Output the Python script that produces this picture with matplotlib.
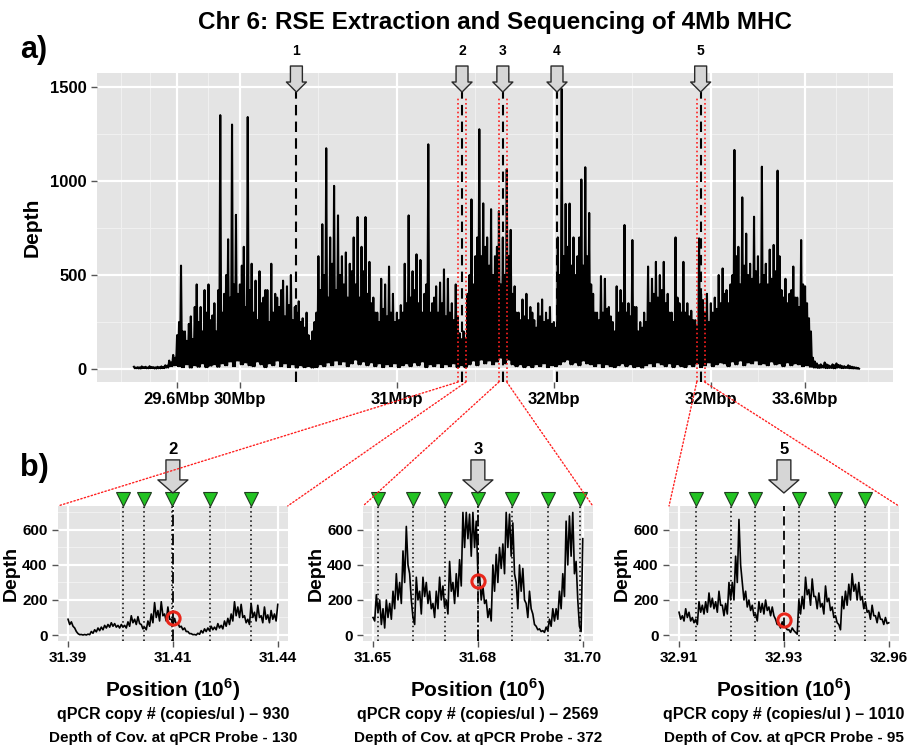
import numpy as np
import matplotlib
matplotlib.use('Agg')
import matplotlib.pyplot as plt
from matplotlib.patches import ConnectionPatch

plt.rcParams['font.family'] = ['Liberation Sans', 'DejaVu Sans']
plt.rcParams['font.weight'] = 'bold'
plt.rcParams['mathtext.fontset'] = 'custom'
plt.rcParams['mathtext.rm'] = 'Liberation Sans:bold'
plt.rcParams['mathtext.bf'] = 'Liberation Sans:bold'

# ---- a) whole MHC coverage: per 25 kb bin a main peak, a second peak and the trough ----
track_start = 29.325   # Mb
track_step = 0.025
peak_depth = [
    12, 10, 14, 12, 15, 10, 12, 14, 20, 45,
    75, 180, 550, 200, 240, 160, 450, 330, 420, 450,
    285, 200, 1350, 400, 690, 1300, 820, 450, 650, 1340,
    560, 470, 520, 380, 420, 560, 400, 330, 470, 440,
    500, 330, 360, 270, 300, 150, 250, 600, 770, 1174,
    700, 974, 817, 600, 620, 560, 700, 808, 650, 808,
    570, 380, 300, 480, 450, 545, 400, 300, 340, 560,
    817, 520, 610, 580, 400, 1195, 350, 440, 460, 530,
    480, 350, 450, 190, 200, 400, 902, 600, 1275, 881,
    700, 850, 600, 840, 700, 1063, 740, 440, 300, 370,
    400, 330, 260, 350, 370, 300, 330, 250, 700, 1489,
    878, 880, 700, 600, 1008, 1073, 830, 400, 300, 494,
    480, 330, 250, 440, 420, 766, 350, 686, 330, 250,
    300, 545, 480, 570, 500, 570, 400, 300, 700, 350,
    570, 350, 310, 260, 695, 367, 400, 350, 380, 500,
    535, 420, 450, 1165, 650, 913, 720, 560, 810, 600,
    1076, 560, 635, 660, 1055, 420, 480, 400, 545, 380,
    686, 440, 270, 60, 30, 25, 35, 20, 25, 30,
    20, 15, 20, 12, 8,
]
second_peak_depth = [
    8, 9, 10, 8, 11, 9, 10, 12, 18, 35,
    60, 250, 200, 150, 280, 330, 250, 200, 300, 260,
    350, 420, 300, 500, 380, 450, 400, 550, 330, 420,
    300, 260, 350, 420, 250, 300, 380, 420, 280, 340,
    260, 300, 250, 220, 180, 200, 300, 420, 500, 380,
    560, 420, 500, 450, 380, 520, 450, 380, 520, 400,
    350, 300, 250, 320, 280, 300, 250, 260, 300, 350,
    380, 420, 350, 300, 450, 300, 380, 300, 350, 280,
    300, 260, 280, 150, 160, 500, 450, 700, 600, 650,
    550, 500, 650, 450, 500, 600, 400, 300, 260, 280,
    260, 300, 220, 280, 250, 260, 240, 220, 500, 600,
    650, 550, 500, 700, 550, 600, 450, 300, 260, 300,
    320, 280, 200, 300, 350, 300, 280, 330, 200, 220,
    250, 350, 400, 380, 420, 350, 300, 250, 380, 300,
    300, 280, 260, 230, 400, 300, 250, 300, 320, 350,
    400, 350, 500, 600, 450, 550, 500, 480, 520, 450,
    500, 450, 480, 520, 600, 380, 350, 420, 380, 330,
    450, 350, 200, 40, 20, 18, 25, 15, 20, 22,
    15, 12, 15, 10, 6,
]
trough_depth = [
    4, 3, 5, 4, 5, 3, 4, 5, 8, 15,
    20, 15, 10, 25, 8, 20, 12, 30, 10, 18,
    25, 12, 30, 20, 40, 15, 45, 25, 35, 20,
    15, 40, 25, 10, 30, 20, 45, 15, 30, 10,
    25, 8, 20, 10, 15, 8, 10, 25, 15, 35,
    20, 45, 25, 40, 15, 30, 50, 25, 40, 20,
    35, 15, 30, 10, 25, 15, 30, 10, 20, 30,
    15, 35, 20, 40, 10, 25, 15, 30, 10, 25,
    15, 30, 10, 20, 10, 25, 45, 20, 50, 30,
    45, 25, 40, 60, 30, 50, 25, 15, 25, 10,
    20, 10, 25, 15, 30, 10, 20, 15, 25, 40,
    50, 25, 35, 20, 45, 30, 25, 15, 30, 10,
    25, 15, 10, 20, 30, 15, 25, 10, 15, 8,
    20, 30, 15, 35, 25, 15, 30, 10, 25, 15,
    10, 25, 15, 30, 10, 20, 35, 15, 25, 35,
    30, 15, 40, 25, 45, 20, 35, 30, 45, 25,
    30, 20, 40, 25, 30, 15, 35, 20, 30, 25,
    15, 20, 12, 8, 6, 8, 5, 6, 4, 8,
    5, 6, 4, 3, 2,
]

main_xticks = [29.6, 30, 31, 32, 33, 33.6]
main_xticklabels = ['29.6Mbp', '30Mbp', '31Mbp', '32Mbp', '32Mbp', '33.6Mbp']
main_xminor = [29.24, 29.43, 29.8, 30.5, 31.5, 32.5, 33.3, 33.8, 34.0]
main_yticks = [0, 500, 1000, 1500]
main_yminor = [250, 750, 1250]

probe_ids = ['1', '2', '3', '4', '5']
probe_pos = [30.36, 31.415, 31.675, 32.02, 32.935]
zoomed_probes = [1, 2, 4]

# ---- b) 50 kb windows around probes 2, 3 and 5 (upper / lower edge of the trace) ----
zoom_half = 0.025
zoom_ticklabels = [['31.39', '31.41', '31.44'],
                   ['31.65', '31.68', '31.70'],
                   ['32.91', '32.93', '32.96']]
zoom_upper = [
    [90, 75, 40, 8, 3, 3, 5, 20, 30, 40, 45, 55, 60, 70, 65, 55,
     60, 55, 75, 110, 90, 105, 60, 45, 80, 120, 185, 140, 190, 120, 160, 90,
     95, 70, 50, 40, 20, 8, 3, 10, 25, 35, 40, 50, 45, 65, 55, 80,
     95, 120, 190, 160, 175, 110, 90, 180, 130, 170, 110, 160, 115, 140, 120, 175],
    [100, 230, 200, 150, 200, 180, 250, 350, 300, 480, 620, 350, 100, 330, 250, 330,
     300, 250, 180, 250, 330, 280, 200, 420, 300, 350, 430, 700, 700, 690, 700, 650,
     340, 280, 200, 150, 400, 460, 500, 520, 700, 690, 640, 300, 400, 380, 180, 250,
     120, 50, 35, 25, 45, 90, 150, 150, 250, 350, 650, 680, 700, 420, 50, 550],
    [130, 110, 150, 130, 100, 90, 190, 170, 190, 240, 210, 190, 250, 170, 180, 300,
     300, 450, 660, 300, 250, 200, 170, 120, 190, 180, 200, 160, 160, 90, 60, 75,
     45, 30, 40, 15, 200, 220, 330, 260, 320, 220, 240, 180, 280, 210, 160, 110,
     60, 220, 250, 290, 350, 290, 300, 220, 190, 140, 170, 110, 130, 90, 100, 70],
]
zoom_lower = [
    [60, 50, 20, 2, 0, 0, 2, 10, 18, 25, 30, 40, 45, 50, 45, 40,
     45, 40, 50, 70, 60, 65, 35, 30, 50, 70, 100, 80, 110, 80, 90, 60,
     60, 45, 30, 20, 8, 2, 0, 4, 12, 20, 25, 30, 30, 40, 35, 50,
     60, 80, 110, 100, 100, 70, 60, 100, 80, 100, 70, 90, 70, 90, 80, 100],
    [80, 130, 60, 40, 100, 90, 150, 200, 180, 300, 400, 200, 60, 200, 120, 220,
     180, 150, 100, 150, 200, 160, 120, 250, 180, 220, 280, 500, 550, 450, 500, 350,
     200, 180, 100, 80, 250, 300, 380, 350, 500, 450, 350, 150, 250, 200, 100, 150,
     60, 30, 20, 15, 25, 50, 80, 90, 150, 220, 400, 450, 350, 200, 20, 300],
    [90, 80, 100, 80, 70, 60, 130, 120, 130, 160, 150, 130, 170, 110, 120, 200,
     200, 300, 400, 200, 160, 140, 110, 80, 130, 120, 140, 110, 110, 60, 40, 50,
     30, 15, 25, 5, 120, 150, 230, 170, 220, 150, 160, 120, 190, 140, 100, 70,
     30, 150, 170, 200, 250, 200, 200, 150, 130, 90, 110, 70, 90, 60, 65, 50],
]
zoom_primers = [
    [31.4031, 31.4081, 31.4148, 31.4238, 31.4336],
    [31.6512, 31.6595, 31.6671, 31.6750, 31.6831, 31.6917, 31.6993],
    [32.9141, 32.9224, 32.9282, 32.9387, 32.9471, 32.9543],
]
zoom_probe_depth = [95, 310, 85]
zoom_center_ls = ['dashdot', 'dashdot', (0, (5, 3))]
qpcr_copies = [930, 2569, 1010]
probe_coverage = [130, 372, 95]

BG = '#E4E4E4'
fig = plt.figure(figsize=(9.17, 7.46), dpi=100)


def gg_axes(ax):
    ax.set_facecolor(BG)
    for s in ax.spines.values():
        s.set_visible(False)
    ax.tick_params(colors='#555555', length=4, width=1, labelcolor='black')


def down_arrow(ax, x, y_tip, y_tail, tail_w, head_w, head_l, label, y_label, fs):
    tr = ax.get_xaxis_transform()
    ax.annotate('', xy=(x, y_tip), xycoords=tr, xytext=(x, y_tail), textcoords=tr,
                arrowprops=dict(arrowstyle='simple,head_length=%g,head_width=%g,tail_width=%g'
                                % (head_l, head_w, tail_w),
                                mutation_scale=1, fc='#d6d6d6', ec='#2a2a2a', lw=1,
                                shrinkA=0, shrinkB=0), zorder=6)
    ax.text(x, y_label, label, transform=tr, ha='center', va='center',
            fontsize=fs, fontweight='bold', clip_on=False)


# ---------------- panel a ----------------
ax = fig.add_axes([0.1058, 0.4879, 0.8680, 0.4142])
gg_axes(ax)
for v in main_yminor:
    ax.axhline(v, color='#F0F0F0', lw=0.8, zorder=0)
for v in main_xminor:
    ax.axvline(v, color='#F0F0F0', lw=0.8, zorder=0)
for v in main_yticks:
    ax.axhline(v, color='white', lw=1.6, zorder=0)
for v in main_xticks:
    ax.axvline(v, color='white', lw=1.6, zorder=0)

pos = track_start + track_step * np.arange(len(peak_depth))
q = track_step / 4
xs = np.column_stack([pos, pos + q, pos + 2 * q, pos + 3 * q]).ravel()
ys = np.column_stack([peak_depth, trough_depth, second_peak_depth, trough_depth]).ravel()
ax.plot(xs, ys, color='black', lw=1.5, zorder=2)

ax.set_xlim(29.09, 34.16)
ax.set_ylim(-69, 1574)
ax.set_xticks(main_xticks)
ax.set_xticklabels(main_xticklabels, fontsize=12, fontweight='bold')
ax.set_yticks(main_yticks)
ax.set_yticklabels([str(v) for v in main_yticks], fontsize=12, fontweight='bold')
ax.set_ylabel('Depth', fontsize=15, fontweight='bold', labelpad=6)

for i, (pid, p) in enumerate(zip(probe_ids, probe_pos)):
    ax.axvline(p, ymin=0, ymax=0.9385, color='black', lw=1.5, ls=(0, (5, 3)), zorder=4)
    if i in zoomed_probes:
        for dx in (-zoom_half, zoom_half):
            ax.axvline(p + dx, ymin=0, ymax=0.925, color='#ff2020', lw=1.2,
                       ls=(0, (1, 1.6)), zorder=4)
    down_arrow(ax, p, 0.9385, 1.0227, 8.6, 14.4, 7.2, pid, 1.07, 10)

# ---------------- panel b ----------------
sub_lefts = [0.0633, 0.3959, 0.7296]
for k, (pi, left) in enumerate(zip(zoomed_probes, sub_lefts)):
    c = probe_pos[pi]
    bx = fig.add_axes([left, 0.1408, 0.2505, 0.1810])
    gg_axes(bx)
    for v in [100, 300, 500, 700]:
        bx.axhline(v, color='#F0F0F0', lw=0.8, zorder=0)
    for v in [c - zoom_half / 2, c + zoom_half / 2]:
        bx.axvline(v, color='#F0F0F0', lw=0.8, zorder=0)
    for v in [0, 200, 400, 600]:
        bx.axhline(v, color='white', lw=1.6, zorder=0)
    for v in [c - zoom_half, c, c + zoom_half]:
        bx.axvline(v, color='white', lw=1.6, zorder=0)

    up, lo = zoom_upper[k], zoom_lower[k]
    zx = np.linspace(c - zoom_half, c + zoom_half, len(up))
    half = (zx[1] - zx[0]) / 2
    bx.plot(np.column_stack([zx, zx + half]).ravel()[:-1],
            np.column_stack([up, lo]).ravel()[:-1], color='black', lw=1.2, zorder=2)

    for m in zoom_primers[k]:
        bx.axvline(m, ymin=0, ymax=1, color='black', lw=1.1, ls=(0, (1, 2)), zorder=3)
        bx.plot(m, 1.052, marker='v', ms=10, mfc='#22C322', mec='#1f3d1f', mew=0.8,
                transform=bx.get_xaxis_transform(), clip_on=False, zorder=6)
    bx.axvline(c, ymin=0, ymax=1, color='black', lw=1.3, ls=zoom_center_ls[k], zorder=4)
    bx.plot(c, zoom_probe_depth[k], 'o', mfc='none', mec='#e8261a', ms=9.5, mew=2.2, zorder=5)

    bx.set_xlim(c - 0.02738, c + 0.02738)
    bx.set_ylim(-34, 737)
    bx.set_xticks([c - zoom_half, c, c + zoom_half])
    bx.set_xticklabels(zoom_ticklabels[k], fontsize=11, fontweight='bold')
    bx.set_yticks([0, 200, 400, 600])
    bx.set_yticklabels(['0', '200', '400', '600'], fontsize=11, fontweight='bold')
    bx.set_ylabel('Depth', fontsize=14, fontweight='bold', labelpad=2)

    down_arrow(bx, c, 1.096, 1.341, 10, 21.6, 9.4, probe_ids[pi], 1.42, 12)

    bx.text(0.5, -0.363, r'Position (10$^{6}$)', transform=bx.transAxes,
            ha='center', va='center', fontsize=15, fontweight='bold')
    bx.text(0.5, -0.541, 'qPCR copy # (copies/ul ) \u2013 %d' % qpcr_copies[k],
            transform=bx.transAxes, ha='center', va='center', fontsize=11.5, fontweight='bold')
    bx.text(0.5, -0.719, 'Depth of Cov. at qPCR Probe - %d' % probe_coverage[k],
            transform=bx.transAxes, ha='center', va='center', fontsize=11, fontweight='bold')

    # red zoom guides from panel a to this window
    lo_a, hi_b = ax.get_ylim()[0], bx.get_ylim()[1]
    for xa, xb in [(c - zoom_half, bx.get_xlim()[0]), (c + zoom_half, bx.get_xlim()[1])]:
        con = ConnectionPatch(xyA=(xa, lo_a), coordsA=ax.transData,
                              xyB=(xb, hi_b), coordsB=bx.transData,
                              color='#ff2020', lw=1.0, ls=(0, (1, 1.6)), zorder=1)
        fig.add_artist(con)

fig.text(0.54, 0.9705, 'Chr 6: RSE Extraction and Sequencing of 4Mb MHC',
         ha='center', va='center', fontsize=17.5, fontweight='bold')
fig.text(0.022, 0.933, 'a)', ha='left', va='center', fontsize=22, fontweight='bold')
fig.text(0.022, 0.372, 'b)', ha='left', va='center', fontsize=22, fontweight='bold')

fig.savefig('out.png', dpi=100)
